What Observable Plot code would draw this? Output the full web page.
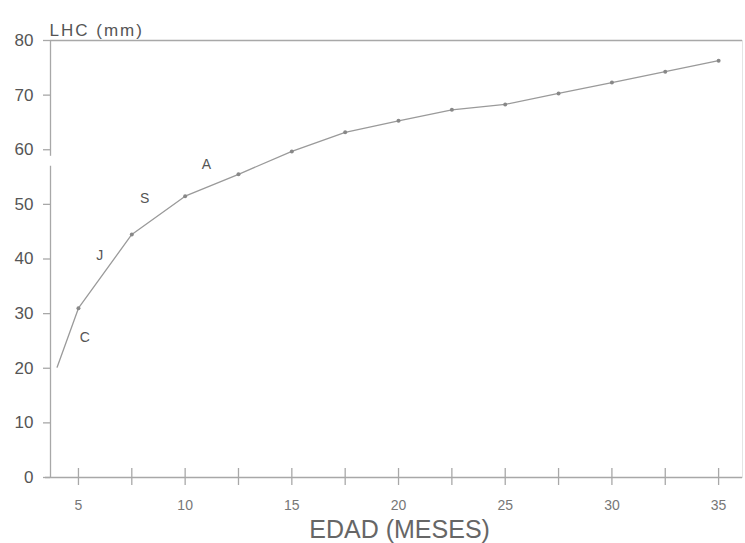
<!DOCTYPE html>
<html>
<head>
<meta charset="utf-8">
<script src="https://cdn.jsdelivr.net/npm/d3@7"></script>
<script src="https://cdn.jsdelivr.net/npm/@observablehq/plot@0.6"></script>
<style>
  html, body { margin: 0; padding: 0; background: #fff; }
  #chart svg { display: block; }
</style>
</head>
<body>
<div id="chart"></div>
<script>
// Data
const months = [4, 5, 7.5, 10, 12.5, 15, 17.5, 20, 22.5, 25, 27.5, 30, 32.5, 35];
const lhc    = [20.2, 31.0, 44.5, 51.5, 55.5, 59.7, 63.2, 65.3, 67.3, 68.3, 70.3, 72.3, 74.3, 76.3];
const hasDot = [false, true, true, true, true, true, true, true, true, true, true, true, true, true];

// Month annotations along the curve
const seasonLabels = ["C", "J", "S", "A"];
const seasonX = [5.3, 6.0, 8.1, 11.0];
const seasonY = [25.6, 40.6, 51.1, 57.3];

// Axis ticks
const xTicks = [5, 7.5, 10, 12.5, 15, 17.5, 20, 22.5, 25, 27.5, 30, 32.5, 35];
const xTickLabels = [5, 10, 15, 20, 25, 30, 35];
const yTicks = [0, 10, 20, 30, 40, 50, 60, 70, 80];
const yBreak = [57, 58.8];

const xMin = 3.69, xMax = 36.12;

const data = months.map((m, i) => ({month: m, lhc: lhc[i], dot: hasDot[i]}));
const labels = seasonLabels.map((t, i) => ({t, x: seasonX[i], y: seasonY[i]}));

const axisColor = "#a8a8a8";
const font = "'Liberation Sans', Arial, Helvetica, sans-serif";

const chart = Plot.plot({
  width: 745,
  height: 543,
  marginLeft: 50,
  marginRight: 3,
  marginTop: 40,
  marginBottom: 66,
  style: {fontFamily: font, background: "#fff"},
  x: {domain: [xMin, xMax], axis: null},
  y: {domain: [0, 80], axis: null},
  marks: [
    // frame lines
    Plot.ruleY([80], {stroke: axisColor, strokeWidth: 1.3}),
    Plot.ruleY([0], {stroke: axisColor, strokeWidth: 1.3, insetLeft: -5}),
    Plot.frame({anchor: "right", stroke: "#e4e4e4"}),
    // broken y axis
    Plot.ruleX([xMin], {y1: 0, y2: yBreak[0], stroke: axisColor, strokeWidth: 1.3}),
    Plot.ruleX([xMin], {y1: yBreak[1], y2: 80, stroke: axisColor, strokeWidth: 1.3}),
    // y ticks and labels
    Plot.ruleY(yTicks, {x1: xMin, x2: xMin, insetLeft: -7, stroke: axisColor, strokeWidth: 1.3}),
    Plot.text(yTicks, {y: d => d, text: d => String(d), frameAnchor: "left", dx: -17, textAnchor: "end",
      fontSize: 17, fill: "#555"}),
    // x ticks and labels
    Plot.ruleX(xTicks, {y1: 0, y2: 0, insetTop: -9, insetBottom: -8, stroke: axisColor, strokeWidth: 1.3}),
    Plot.text(xTickLabels, {x: d => d, text: d => String(d), frameAnchor: "bottom", dy: 32,
      fontSize: 14, fill: "#777"}),
    // axis titles
    Plot.text(["LHC (mm)"], {frameAnchor: "top-left", dx: -1, dy: -17, textAnchor: "start",
      fontSize: 17, fill: "#555"}),
    Plot.text(["EDAD (MESES)"], {x: 20.05, frameAnchor: "bottom", dy: 60, fontSize: 25, fill: "#666"}),
    // data
    Plot.line(data, {x: "month", y: "lhc", stroke: "#9a9a9a", strokeWidth: 1.3}),
    Plot.dot(data, {x: "month", y: "lhc", filter: d => d.dot, r: 2, fill: "#888", stroke: "none"}),
    Plot.text(labels, {x: "x", y: "y", text: "t", fontSize: 14, fill: "#555"})
  ]
});

// widen the letter spacing of the scanned-looking labels
d3.select(chart).selectAll("text")
  .filter(function() { return this.textContent === "LHC (mm)"; })
  .attr("letter-spacing", "2px");
d3.select(chart).selectAll("text")
  .filter(function() { return yTicks.map(String).includes(this.textContent) && this.getAttribute("text-anchor") === "end"; })
  .attr("letter-spacing", "1.5px");

document.getElementById("chart").appendChild(chart);
</script>
</body>
</html>
